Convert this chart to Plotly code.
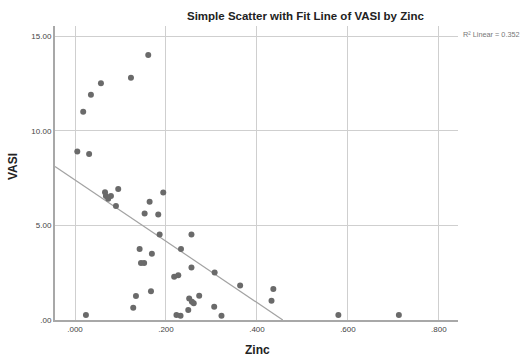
import plotly.graph_objects as go
import numpy as np

zinc = [0.161, 0.123, 0.057, 0.035, 0.018, 0.005, 0.031, 0.024,
        0.066, 0.068, 0.073, 0.079, 0.090, 0.095,
        0.164, 0.194, 0.153, 0.183, 0.186, 0.256, 0.142, 0.233, 0.169,
        0.145, 0.152, 0.256, 0.307, 0.218, 0.227, 0.363, 0.167, 0.134,
        0.273, 0.251, 0.257, 0.261, 0.128, 0.306, 0.249, 0.223, 0.232,
        0.322, 0.436, 0.432, 0.579, 0.712]
vasi = [14.0, 12.8, 12.5, 11.9, 11.0, 8.9, 8.77, 0.26,
        6.75, 6.55, 6.4, 6.55, 6.02, 6.92,
        6.25, 6.74, 5.63, 5.57, 4.51, 4.51, 3.75, 3.75, 3.5,
        3.01, 3.01, 2.77, 2.51, 2.28, 2.37, 1.82, 1.52, 1.27,
        1.28, 1.14, 0.97, 0.88, 0.65, 0.70, 0.53, 0.27, 0.23,
        0.23, 1.64, 1.02, 0.26, 0.26]

fit_intercept = 7.40
fit_slope = -16.2
r2_text = "R² Linear = 0.352"

x_ticks = [0.0, 0.2, 0.4, 0.6, 0.8]
x_ticklabels = [".000", ".200", ".400", ".600", ".800"]
y_ticks = [0, 5, 10, 15]
y_ticklabels = [".00", "5.00", "10.00", "15.00"]

x_range = [-0.044, 0.842]
y_range = [0, 15.53]

fit_x = np.array([x_range[0], -fit_intercept / fit_slope])
fit_y = fit_intercept + fit_slope * fit_x

L, R, T, B = 55, 63, 26, 36
W, H = 521, 356
pw, ph = W - L - R, H - T - B

def px(x):
    return (x - L) / pw

def py(y):
    return (H - B - y) / ph

fig = go.Figure()
fig.add_trace(go.Scatter(x=fit_x, y=fit_y, mode="lines",
                         line=dict(color="#a3a3a3", width=1.2),
                         hoverinfo="skip", showlegend=False))
fig.add_trace(go.Scatter(x=zinc, y=vasi, mode="markers",
                         marker=dict(color="#6a6a6a", size=6, line=dict(width=0)),
                         showlegend=False, cliponaxis=False))

fig.update_layout(
    width=W, height=H,
    margin=dict(l=L, r=R, t=T, b=B),
    paper_bgcolor="white", plot_bgcolor="white",
    font=dict(family="Liberation Sans, Arial, sans-serif", color="#333333"),
    xaxis=dict(range=x_range, tickvals=x_ticks, ticktext=x_ticklabels,
               showgrid=True, gridcolor="#cfcfcf", gridwidth=1,
               zeroline=False, showline=True, linecolor="#a8a8a8", linewidth=2,
               ticks="", tickfont=dict(size=8, color="#444444")),
    yaxis=dict(range=y_range, tickvals=y_ticks, ticktext=y_ticklabels,
               showgrid=True, gridcolor="#cfcfcf", gridwidth=1,
               zeroline=False, showline=True, linecolor="#a8a8a8", linewidth=2,
               ticks="", tickfont=dict(size=8, color="#444444")),
    annotations=[
        dict(text="<b>Simple Scatter with Fit Line of VASI by Zinc</b>",
             x=px(305), y=py(16), xref="paper", yref="paper",
             xanchor="center", yanchor="middle", showarrow=False,
             font=dict(size=11.5, color="#222222")),
        dict(text="<b>VASI</b>", x=px(13), y=py(167), xref="paper", yref="paper",
             xanchor="center", yanchor="middle", showarrow=False, textangle=-90,
             font=dict(size=12, color="#222222")),
        dict(text="<b>Zinc</b>", x=px(257), y=py(350), xref="paper", yref="paper",
             xanchor="center", yanchor="middle", showarrow=False,
             font=dict(size=12, color="#222222")),
        dict(text=r2_text, x=px(461), y=py(34), xref="paper", yref="paper",
             xanchor="left", yanchor="middle", showarrow=False,
             font=dict(size=7.3, color="#777777")),
    ],
)

fig.write_html("out.html")
